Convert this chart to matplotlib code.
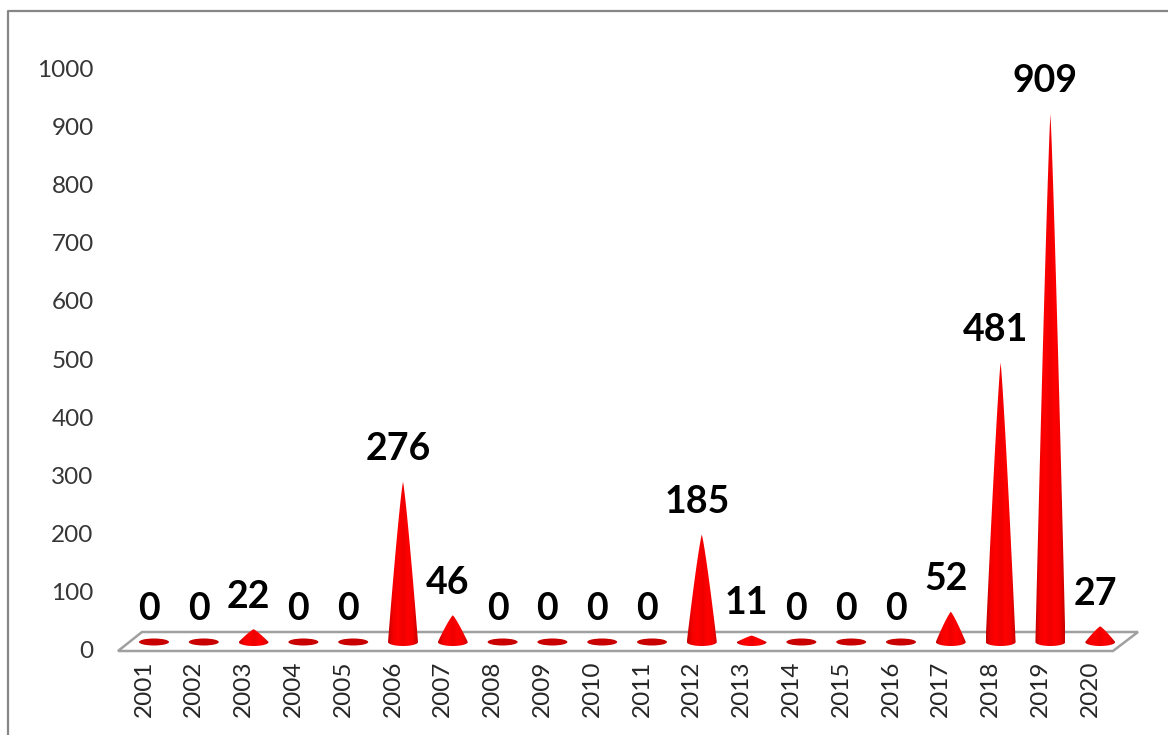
import numpy as np
import matplotlib
matplotlib.use("Agg")
import matplotlib.pyplot as plt
from matplotlib.colors import LinearSegmentedColormap
from matplotlib.lines import Line2D
from matplotlib.patches import Polygon, Ellipse
from matplotlib.transforms import ScaledTranslation

years = list(range(2001, 2021))
values = [0, 0, 22, 0, 0, 276, 46, 0, 0, 0, 0, 185, 11, 0, 0, 0, 52, 481, 909, 27]
yticks = list(range(0, 1001, 100))

W, H = 1168, 735
BASE_PX, SCALE = 642, 0.581
X0, DX = 154, 49.8
HALF_W = 15 / DX
HALF_H = 4.0 / SCALE
TEXT = "#363636"

fig = plt.figure(figsize=(W / 100, H / 100), dpi=100, facecolor="white")
left = X0 - 0.5 * DX
ax = fig.add_axes([left / W, (H - BASE_PX) / H, 20 * DX / W, 1000 * SCALE / H])
ax.patch.set_visible(False)
for s in ax.spines.values():
    s.set_visible(False)

def fx(p): return p / W
def fy(p): return 1 - p / H
fig.add_artist(Line2D([fx(8), fx(8), fx(1168)], [fy(735), fy(11), fy(11)], color="#868686", lw=1.6))

floor_px = [(118, 651), (1113, 651), (1138, 632), (142, 632)]
ax.add_patch(Polygon([(fx(a), fy(b)) for a, b in floor_px], closed=True, fill=False,
                     edgecolor="#A0A0A0", lw=1.8, transform=fig.transFigure, clip_on=False, zorder=1))

cmap = LinearSegmentedColormap.from_list("cone", ["#C00000", "#F40000", "#FF0000", "#EE0000",
                                                  "#FF0000", "#F40000", "#C80000"])
grad = np.linspace(0, 1, 128).reshape(1, -1)
t = np.linspace(0, np.pi, 40)
s = np.linspace(0, 1, 40)

for i, v in enumerate(values):
    if v == 0:
        ax.add_patch(Ellipse((i, 0), 2 * HALF_W, 2 * 3.5 / SCALE, facecolor="#C80000",
                             edgecolor="none", zorder=3, clip_on=False))
    else:
        # slightly convex silhouette from tip to base, then the front half of the base ellipse
        side = HALF_W * s ** 0.85
        sy = v * (1 - s)
        ex = i - HALF_W * np.cos(t)
        ey = -HALF_H * np.sin(t)
        px = np.r_[i - side, ex, (i + side)[::-1]]
        py = np.r_[sy, ey, sy[::-1]]
        im = ax.imshow(grad, cmap=cmap, aspect="auto", zorder=3,
                       extent=[i - HALF_W, i + HALF_W, -HALF_H, v], interpolation="bilinear")
        poly = Polygon(np.column_stack([px, py]), closed=True, transform=ax.transData)
        im.set_clip_path(poly)
        im.set_clip_box(fig.bbox)
    ax.annotate(str(v), (i, v), xytext=(-5 * 0.72, 32.5 * 0.72), textcoords="offset points",
                ha="center", va="center", fontsize=27, fontweight="bold",
                family="Lato", color="black", annotation_clip=False, zorder=5)

ax.set_xlim(-0.5, 19.5)
ax.set_ylim(0, 1000)
ax.set_xticks(range(20))
ax.set_xticklabels(years, rotation=90, fontsize=17.5, family="Lato", color="#262626")
ax.set_yticks(yticks)
ax.set_yticklabels(yticks, fontsize=17.5, family="Lato", color=TEXT)
ax.tick_params(axis="both", length=0)
ax.tick_params(axis="x", pad=13.5)
ax.tick_params(axis="y", pad=25.5)

yshift = ScaledTranslation(0, -7.5 / 100, fig.dpi_scale_trans)
xshift = ScaledTranslation(-10 / 100, 0, fig.dpi_scale_trans)
for lab in ax.get_yticklabels():
    lab.set_transform(lab.get_transform() + yshift)
for lab in ax.get_xticklabels():
    lab.set_transform(lab.get_transform() + xshift)

fig.savefig("out.png", dpi=100)
